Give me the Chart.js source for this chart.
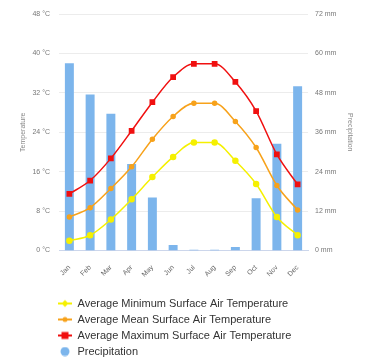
<!DOCTYPE html>
<html>
<head>
<meta charset="utf-8">
<script src="https://cdn.jsdelivr.net/npm/chart.js@4"></script>
<style>
  html, body { margin: 0; padding: 0; background: #fff; }
  #caja { width: 368px; height: 358px; }
</style>
</head>
<body>
<div id="caja"><canvas id="graficoClima"></canvas></div>
<script>
// Datos
const meses = ['Jan', 'Feb', 'Mar', 'Apr', 'May', 'Jun', 'Jul', 'Aug', 'Sep', 'Oct', 'Nov', 'Dec'];
const tempMinima = [2.0, 3.1, 6.3, 10.4, 14.9, 19.0, 21.9, 21.9, 18.2, 13.5, 6.8, 3.1];
const tempMedia = [6.8, 8.7, 12.6, 17.0, 22.6, 27.2, 29.9, 29.9, 26.2, 20.9, 13.2, 8.2];
const tempMaxima = [11.5, 14.2, 18.7, 24.3, 30.1, 35.2, 37.9, 37.9, 34.2, 28.3, 19.5, 13.4];
const precipitacion = [57.0, 47.5, 41.6, 26.3, 16.1, 1.7, 0.2, 0.2, 1.1, 15.9, 32.5, 50.0];
const ticksTemp = [0, 8, 16, 24, 32, 40, 48];
const ticksLluvia = [0, 12, 24, 36, 48, 60, 72];

const fuente = '"Liberation Sans", Arial, sans-serif';

// Marcador de leyenda: línea con punto, como en el original
function crearMarcador(color, forma, conLinea) {
  const c = document.createElement('canvas');
  c.width = 14; c.height = 10;
  const g = c.getContext('2d');
  g.fillStyle = color;
  g.strokeStyle = color;
  if (conLinea) {
    g.lineWidth = 2;
    g.beginPath(); g.moveTo(0, 5); g.lineTo(14, 5); g.stroke();
  }
  g.beginPath();
  if (forma === 'rect') {
    g.rect(3.5, 1.5, 7, 7);
  } else if (forma === 'diamond') {
    g.moveTo(7, 1.5); g.lineTo(10.5, 5); g.lineTo(7, 8.5); g.lineTo(3.5, 5); g.closePath();
  } else if (forma === 'small') {
    g.arc(7, 5, 2.5, 0, Math.PI * 2);
  } else {
    g.arc(7, 5, 4.5, 0, Math.PI * 2);
  }
  g.fill();
  return c;
}

const colorMin = '#f5f000';
const colorMedia = '#f7a21b';
const colorMax = '#f01010';
const colorLluvia = '#7cb5ec';

const marcadores = [
  crearMarcador(colorMin, 'diamond', true),
  crearMarcador(colorMedia, 'small', true),
  crearMarcador(colorMax, 'rect', true),
  crearMarcador(colorLluvia, 'circle', false)
];

// Ajusta la posición de la leyenda después del layout
const moverLeyenda = {
  id: 'moverLeyenda',
  afterLayout(chart) {
    const ley = chart.legend;
    ley.left -= 6; ley.right -= 6;
    ley.top += 9; ley.bottom += 9;
  }
};

const ctx = document.getElementById('graficoClima').getContext('2d');

const chart = new Chart(ctx, {
  type: 'bar',
  data: {
    labels: meses,
    datasets: [
      {
        type: 'line',
        label: 'Average Minimum Surface Air Temperature',
        data: tempMinima,
        yAxisID: 'yTemp',
        borderColor: colorMin,
        backgroundColor: colorMin,
        borderWidth: 1.5,
        pointRadius: 2.5,
        pointStyle: 'circle',
        cubicInterpolationMode: 'monotone',
        order: 1
      },
      {
        type: 'line',
        label: 'Average Mean Surface Air Temperature',
        data: tempMedia,
        yAxisID: 'yTemp',
        borderColor: colorMedia,
        backgroundColor: colorMedia,
        borderWidth: 1.5,
        pointRadius: 2,
        pointStyle: 'circle',
        cubicInterpolationMode: 'monotone',
        order: 1
      },
      {
        type: 'line',
        label: 'Average Maximum Surface Air Temperature',
        data: tempMaxima,
        yAxisID: 'yTemp',
        borderColor: colorMax,
        backgroundColor: colorMax,
        borderWidth: 1.5,
        pointRadius: 3,
        pointStyle: 'rect',
        cubicInterpolationMode: 'monotone',
        order: 1
      },
      {
        type: 'bar',
        label: 'Precipitation',
        data: precipitacion,
        yAxisID: 'yLluvia',
        backgroundColor: colorLluvia,
        categoryPercentage: 0.9,
        barPercentage: 0.48,
        order: 2
      }
    ]
  },
  options: {
    responsive: true,
    maintainAspectRatio: false,
    animation: false,
    layout: { padding: { top: 14, left: 0, right: 0, bottom: 0 } },
    plugins: {
      tooltip: { enabled: false },
      legend: {
        position: 'bottom',
        align: 'start',
        fullSize: false,
        labels: {
          usePointStyle: true,
          pointStyleWidth: 14,
          padding: 5,
          color: '#333',
          font: { family: fuente, size: 11 },
          generateLabels(chart) {
            const items = Chart.defaults.plugins.legend.labels.generateLabels(chart);
            items.forEach(it => { it.pointStyle = marcadores[it.datasetIndex]; });
            return items;
          }
        }
      }
    },
    scales: {
      x: {
        grid: { display: false },
        border: { color: '#ccd6eb' },
        ticks: {
          color: '#666',
          font: { family: fuente, size: 7 },
          minRotation: 45,
          maxRotation: 45,
          padding: 5
        },
        afterFit(scale) { scale.height = 33.5; }
      },
      yTemp: {
        position: 'left',
        min: 0,
        max: 48,
        afterBuildTicks(scale) { scale.ticks = ticksTemp.map(v => ({ value: v })); },
        grid: { color: '#ececec', drawTicks: false },
        border: { display: false },
        ticks: {
          color: '#777',
          padding: 9,
          font: { family: fuente, size: 7 },
          callback: v => v + ' °C'
        },
        title: {
          display: true,
          text: 'Temperature',
          color: '#888',
          font: { family: fuente, size: 7 },
          padding: { top: 19, bottom: 0 }
        },
        afterFit(scale) { scale.width = 59; }
      },
      yLluvia: {
        position: 'right',
        min: 0,
        max: 72,
        afterBuildTicks(scale) { scale.ticks = ticksLluvia.map(v => ({ value: v })); },
        grid: { display: false, drawTicks: false },
        border: { display: false },
        ticks: {
          color: '#777',
          padding: 7,
          font: { family: fuente, size: 7 },
          callback: v => v + ' mm'
        },
        title: {
          display: true,
          text: 'Precipitation',
          color: '#888',
          font: { family: fuente, size: 7 },
          padding: { top: 14, bottom: 0 }
        },
        afterFit(scale) { scale.width = 60; }
      }
    }
  },
  plugins: [moverLeyenda]
});
</script>
</body>
</html>
